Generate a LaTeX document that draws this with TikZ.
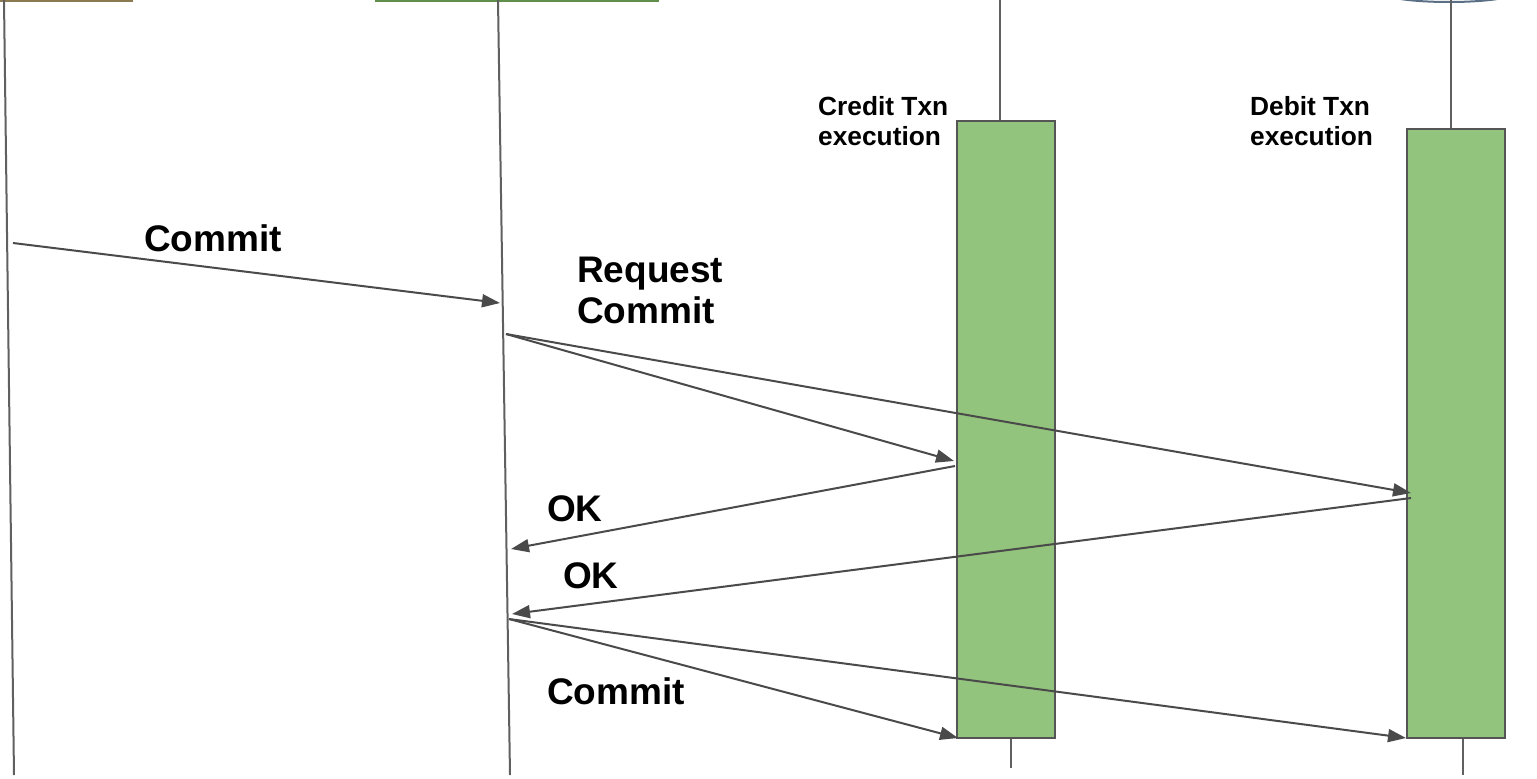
\documentclass[tikz,border=0pt]{standalone}
\usepackage{fontspec}
\setmainfont{Liberation Sans}
\usetikzlibrary{arrows.meta}
\definecolor{linegray}{HTML}{606060}
\definecolor{arrowgray}{HTML}{4A4A4A}
\definecolor{actgreen}{HTML}{93C47D}
\definecolor{boxborder}{HTML}{555555}
\definecolor{hdrorange}{HTML}{8C7B50}
\definecolor{hdrgreen}{HTML}{5F8F4A}
\definecolor{hdrblue}{HTML}{5A6F86}
\begin{document}
\begin{tikzpicture}[x=1pt,y=-1pt,
  life/.style={draw=linegray,line width=2pt},
  msg/.style={draw=arrowgray,line width=2pt,-{Triangle[length=18pt,width=13pt]}},
  actbox/.style={draw=boxborder,fill=actgreen,line width=1.8pt,minimum width=98pt,inner sep=0pt},
  biglbl/.style={font=\fontsize{37}{41}\selectfont\bfseries,anchor=north west,inner sep=0pt,align=left},
  smalllbl/.style={font=\fontsize{26.3}{30}\selectfont\bfseries,anchor=north west,inner sep=0pt,align=left}]
\useasboundingbox (0,0) rectangle (1537,779);
\fill[white] (0,0) rectangle (1537,779);

% header remnants (cut at the top edge)
\draw[hdrorange,line width=2pt] (-5,-40) rectangle (132,0.5);
\draw[hdrgreen,line width=2pt] (376,-40) rectangle (658,0.5);
\draw[hdrblue,line width=2pt,fill=white] (1449,-6) ellipse [x radius=62pt, y radius=8pt];

% activation boxes
\node[actbox,minimum height=617pt] (cb) at (1006,429.5) {};
\node[actbox,minimum height=609pt] (db) at (1456,433.5) {};

% lifelines
\coordinate (l1t) at (4,0);
\coordinate (l1b) at (14,775);
\coordinate (l2t) at (498,0);
\coordinate (l2b) at (510,775);
\coordinate (l3t) at (1000,0);
\coordinate (l3b) at (1011,768);
\coordinate (l4t) at (1451,0);
\coordinate (l4b) at (1463,775);
\draw[life] (l1t) -- (l1b);
\draw[life] (l2t) -- (l2b);
\draw[life] (l3t) -- (l3t |- cb.north);
\draw[life] (l3b |- cb.south) -- (l3b);
\draw[life] (l4t) -- (l4t |- db.north);
\draw[life] (l4b |- db.south) -- (l4b);

% message endpoints
\coordinate (m1s) at (13,243);
\coordinate (m1e) at (500,303);
\coordinate (rq) at (506,334);
\coordinate (cin) at (954,461);
\coordinate (din) at (1411,493);
\coordinate (cout) at (955,466);
\coordinate (ok1) at (511,549);
\coordinate (dout) at (1411,498);
\coordinate (ok2) at (512,614);
\coordinate (cm) at (509,619);
\coordinate (cend) at (958,738);
\coordinate (dend) at (1406,738);

\draw[msg] (m1s) -- (m1e);
\draw[msg] (rq) -- (cin);
\draw[msg] (rq) -- (din);
\draw[msg] (cout) -- (ok1);
\draw[msg] (dout) -- (ok2);
\draw[msg] (cm) -- (cend);
\draw[msg] (cm) -- (dend);

% labels
\node[biglbl] (tcommit1) at (144,224) {Commit};
\node[biglbl] (treq) at (577,257) {Request\\Commit};
\node[biglbl] (tok1) at (547,495) {OK};
\node[biglbl] (tok2) at (563,562) {OK};
\node[biglbl] (tcommit2) at (547,677) {Commit};
\node[smalllbl] (tcredit) at (818,96) {Credit Txn\\execution};
\node[smalllbl] (tdebit) at (1250,96) {Debit Txn\\execution};
\end{tikzpicture}
\end{document}
